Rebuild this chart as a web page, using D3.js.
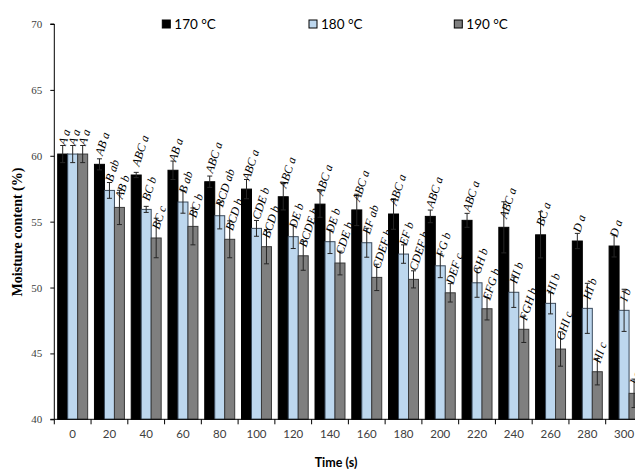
<!DOCTYPE html>
<html>
<head>
<meta charset="utf-8">
<script src="https://cdn.jsdelivr.net/npm/d3@7"></script>
<style>
  html, body { margin: 0; padding: 0; background: #fff; overflow: hidden; }
  svg { display: block; }
</style>
</head>
<body>
<svg id="chart" width="635" height="469"></svg>
<script>
// Drying time (s)
const times = [0, 20, 40, 60, 80, 100, 120, 140, 160, 180, 200, 220, 240, 260, 280, 300];

// Moisture content (%) and standard deviation per drying temperature
const m170 = [60.13, 59.35, 58.54, 58.90, 58.03, 57.47, 56.89, 56.33, 55.89, 55.58, 55.40, 55.10, 54.57, 54.00, 53.53, 53.15];
const e170 = [0.65, 0.42, 0.20, 0.70, 0.43, 0.73, 1.00, 1.00, 1.19, 1.16, 0.48, 0.53, 1.94, 1.75, 0.58, 0.83];
const m180 = [60.13, 57.37, 55.93, 56.49, 55.45, 54.49, 53.86, 53.48, 53.40, 52.54, 51.65, 50.36, 49.64, 48.80, 48.42, 48.27];
const e180 = [0.65, 0.60, 0.23, 0.85, 1.00, 0.60, 0.90, 0.90, 1.10, 0.70, 0.90, 1.10, 1.15, 0.80, 1.90, 1.60];
const m190 = [60.13, 56.08, 53.76, 54.64, 53.66, 53.10, 52.41, 51.86, 50.77, 50.62, 49.60, 48.39, 46.83, 45.33, 43.61, 41.97];
const e190 = [0.65, 1.30, 1.50, 1.40, 1.40, 1.30, 1.10, 0.90, 1.00, 0.65, 0.70, 0.85, 1.00, 1.30, 1.00, 1.08];

// Significance letters (uppercase: across time, lowercase: across temperature)
const l170 = ["A a", "AB a", "ABC a", "AB a", "ABC a", "ABC a", "ABC a", "ABC a", "ABC a", "ABC a", "ABC a", "ABC a", "ABC a", "BC a", "D a", "D a"];
const l180 = ["A a", "B ab", "BC b", "B ab", "BCD ab", "CDE b", "DE b", "DE b", "EF ab", "EF b", "FG b", "GH b", "HI b", "HI b", "HI b", "I b"];
const l190 = ["A a", "AB b", "BC c", "BC b", "BCD b", "BCD b", "BCDE b", "CDE b", "CDEF b", "CDEF b", "DEF c", "EFG b", "FGH b", "GHI c", "HI c", "I c"];

const seriesNames = ["170 °C", "180 °C", "190 °C"];
const yTicks = [40, 45, 50, 55, 60, 65, 70];

const series = [
  { name: seriesNames[0], values: m170, errors: e170, labels: l170, fill: "#000000", stroke: "#000000" },
  { name: seriesNames[1], values: m180, errors: e180, labels: l180, fill: "#bdd7ee", stroke: "#3a4a5c" },
  { name: seriesNames[2], values: m190, errors: e190, labels: l190, fill: "#7f7f7f", stroke: "#3a3a3a" }
];

const svg = d3.select("#chart");

const plotLeft = 54.3, plotTop = 24, plotBottom = 419.3;
const step = 36.76;
const x = d3.scaleBand().domain(times).range([plotLeft, plotLeft + step * times.length]).padding(0);
const inner = d3.scaleBand().domain(seriesNames).range([3.4, step - 3.4]).padding(0);
const y = d3.scaleLinear().domain([40, 70]).range([plotBottom, plotTop]);

// Bars
const groups = svg.append("g").selectAll("g")
  .data(series).join("g");

groups.selectAll("rect")
  .data(s => s.values.map((v, i) => ({ s, v, t: times[i] })))
  .join("rect")
  .attr("x", d => x(d.t) + inner(d.s.name))
  .attr("y", d => y(d.v))
  .attr("width", inner.bandwidth())
  .attr("height", d => y(40) - y(d.v))
  .attr("fill", d => d.s.fill)
  .attr("stroke", d => d.s.stroke)
  .attr("stroke-width", 1);

// Error bars
const errG = svg.append("g").attr("stroke", "#262626").attr("stroke-width", 1).attr("fill", "none");
series.forEach(s => {
  s.values.forEach((v, i) => {
    const cx = x(times[i]) + inner(s.name) + inner.bandwidth() / 2;
    const y1 = y(v + s.errors[i]), y2 = y(v - s.errors[i]);
    errG.append("line").attr("x1", cx).attr("x2", cx).attr("y1", y1).attr("y2", y2);
    errG.append("line").attr("x1", cx - 2.5).attr("x2", cx + 2.5).attr("y1", y1).attr("y2", y1);
    errG.append("line").attr("x1", cx - 2.5).attr("x2", cx + 2.5).attr("y1", y2).attr("y2", y2);
  });
});

// Letter annotations just above each bar end, turned steeply upwards
const labG = svg.append("g")
  .attr("font-family", "'Liberation Serif', 'Times New Roman', serif")
  .attr("font-style", "italic")
  .attr("font-size", 12)
  .attr("fill", "#000");
series.forEach(s => {
  s.values.forEach((v, i) => {
    const px = x(times[i]) + inner(s.name) + inner.bandwidth() / 2 + 3;
    const py = y(v) - 8;
    labG.append("text")
      .attr("transform", "translate(" + px.toFixed(2) + "," + py.toFixed(2) + ") rotate(-72)")
      .text(s.labels[i]);
  });
});

// Y axis
const yAxis = svg.append("g")
  .attr("transform", `translate(${plotLeft},0)`)
  .call(d3.axisLeft(y).tickValues(yTicks).tickSize(4).tickPadding(8).tickFormat(d3.format("d")));
yAxis.select(".domain").attr("stroke", "#000").attr("d", `M-4,${plotTop}H0V${plotBottom}H-4`);
yAxis.selectAll(".tick line").attr("stroke", "#000");
yAxis.selectAll(".tick text")
  .attr("font-family", "'Liberation Serif', 'Times New Roman', serif")
  .attr("font-size", 11)
  .attr("fill", "#404040");

// X axis: labels centred on each band, tick marks on band boundaries
const xAxis = svg.append("g")
  .attr("transform", `translate(0,${plotBottom})`)
  .call(d3.axisBottom(x).tickSize(0).tickPadding(11));
xAxis.select(".domain").attr("stroke", "#000").attr("d", `M${plotLeft},0H${plotLeft + step * times.length}`);
xAxis.selectAll(".tick text")
  .attr("font-family", "Lato, 'Open Sans', sans-serif")
  .attr("font-size", 11.5)
  .attr("fill", "#404040");
xAxis.append("g").selectAll("line")
  .data(times.concat(["end"]))
  .join("line")
  .attr("x1", (d, i) => plotLeft + i * x.step())
  .attr("x2", (d, i) => plotLeft + i * x.step())
  .attr("y1", 0).attr("y2", 5)
  .attr("stroke", "#000");

// Axis titles
svg.append("text")
  .attr("transform", "translate(22,232) rotate(-90)")
  .attr("text-anchor", "middle")
  .attr("font-family", "'Liberation Serif', 'Times New Roman', serif")
  .attr("font-weight", "bold")
  .attr("font-size", 14)
  .attr("fill", "#000")
  .text("Moisture content (%)");

svg.append("text")
  .attr("x", 336).attr("y", 467)
  .attr("text-anchor", "middle")
  .attr("font-family", "Lato, 'Open Sans', sans-serif")
  .attr("font-weight", "bold")
  .attr("font-size", 12.5)
  .attr("fill", "#000")
  .text("Time (s)");

// Legend
const legendX = [162.3, 309, 454.3];
const leg = svg.append("g").selectAll("g").data(series).join("g")
  .attr("transform", (d, i) => `translate(${legendX[i]},20)`);
leg.append("rect").attr("width", 8).attr("height", 8)
  .attr("fill", d => d.fill).attr("stroke", "#000").attr("stroke-width", 1);
leg.append("text").attr("x", 12).attr("y", 9)
  .attr("font-family", "Lato, 'Open Sans', sans-serif")
  .attr("font-size", 13.5)
  .attr("fill", "#000")
  .text(d => d.name);
</script>
</body>
</html>
